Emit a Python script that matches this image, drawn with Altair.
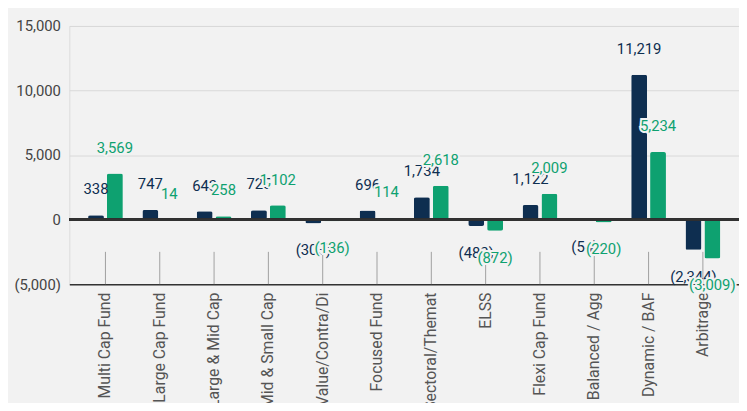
import altair as alt
import pandas as pd

categories = ["Multi Cap Fund", "Large Cap Fund", "Large & Mid Cap", "Mid & Small Cap",
              "Value/Contra/Di", "Focused Fund", "Sectoral/Themat", "ELSS",
              "Flexi Cap Fund", "Balanced / Agg", "Dynamic / BAF", "Arbitrage"]
series_names = ["Period 1", "Period 2"]
values_1 = [338, 747, 643, 725, -303, 696, 1734, -488, 1122, -54, 11219, -2344]
values_2 = [3569, 14, 258, 1102, -136, 114, 2618, -872, 2009, -220, 5234, -3009]
y_ticks = [-5000, 0, 5000, 10000, 15000]

NAVY = "#0e2e50"
GREEN = "#0ea170"
BG = "#f2f2f2"

rows = []
for c, a, b in zip(categories, values_1, values_2):
    rows.append({"category": c, "series": series_names[0], "value": a})
    rows.append({"category": c, "series": series_names[1], "value": b})
df = pd.DataFrame(rows)

x_enc = alt.X("category:N", sort=categories,
              scale=alt.Scale(paddingInner=0.36, paddingOuter=0.345, round=False),
              axis=alt.Axis(title=None, orient="bottom", domainColor="#333333", domainWidth=1.5,
                            ticks=False, labelAngle=270, labelAlign="right", labelBaseline="middle",
                            labelFontSize=16, labelColor="#555555", labelPadding=8,
                            labelOverlap=False, labelLimit=300))
y_enc = alt.Y("value:Q", scale=alt.Scale(domain=[-5000, 15000], nice=False, zero=False),
              axis=alt.Axis(title=None, values=y_ticks, domain=False, ticks=False,
                            grid=True, gridColor="#d9d9d9", gridWidth=1,
                            labelFontSize=15, labelColor="#444444", labelPadding=9,
                            labelExpr="datum.value < 0 ? '(' + format(-datum.value, ',') + ')' : format(datum.value, ',')"))
xoff = alt.XOffset("series:N", sort=series_names,
                   scale=alt.Scale(paddingInner=0.16, paddingOuter=0, round=False))
color = alt.Color("series:N", scale=alt.Scale(domain=series_names, range=[NAVY, GREEN]), legend=None)

base = alt.Chart(df)

ticks = base.transform_filter(alt.datum.series == series_names[0]).mark_rule(
    color="#a0a0a0", strokeWidth=1).encode(
    x=x_enc, y=alt.Y(datum=-2500), y2=alt.Y2(datum=-5000))

bars = base.mark_bar(cornerRadius=2).encode(x=x_enc, y=y_enc, xOffset=xoff, color=color)

zero = base.mark_rule(color="#333333", strokeWidth=1.5).encode(y=alt.Y(datum=0))

label_expr = "datum.value < 0 ? '(' + format(-datum.value, ',') + ')' : format(datum.value, ',')"


def labels(series, col, halo=False):
    out = []
    for cond, dy in (("datum.value >= 0", -26), ("datum.value < 0", 27)):
        kw = dict(dy=dy, fontSize=15, font="Roboto", baseline="middle", align="center")
        if halo:
            kw.update(stroke=BG, strokeWidth=4, fill=BG)
        else:
            kw.update(fill=col)
        out.append(base.transform_filter(alt.datum.series == series)
                   .transform_filter(cond)
                   .transform_calculate(label=label_expr)
                   .mark_text(**kw)
                   .encode(x=x_enc, y=y_enc, xOffset=xoff, text="label:N"))
    return out


layers = [ticks, bars, zero] + labels(series_names[0], NAVY) + \
    labels(series_names[1], GREEN, halo=True) + labels(series_names[1], GREEN)

chart = alt.layer(*layers).properties(
    width=677, height=261,
    autosize=alt.AutoSizeParams(type="none"),
    padding={"left": 62, "top": 16, "right": 0, "bottom": 118},
    background=BG,
).configure_view(stroke=None).configure(font="Roboto")

chart.save("out.html", embed_options={"renderer": "svg", "actions": False})
